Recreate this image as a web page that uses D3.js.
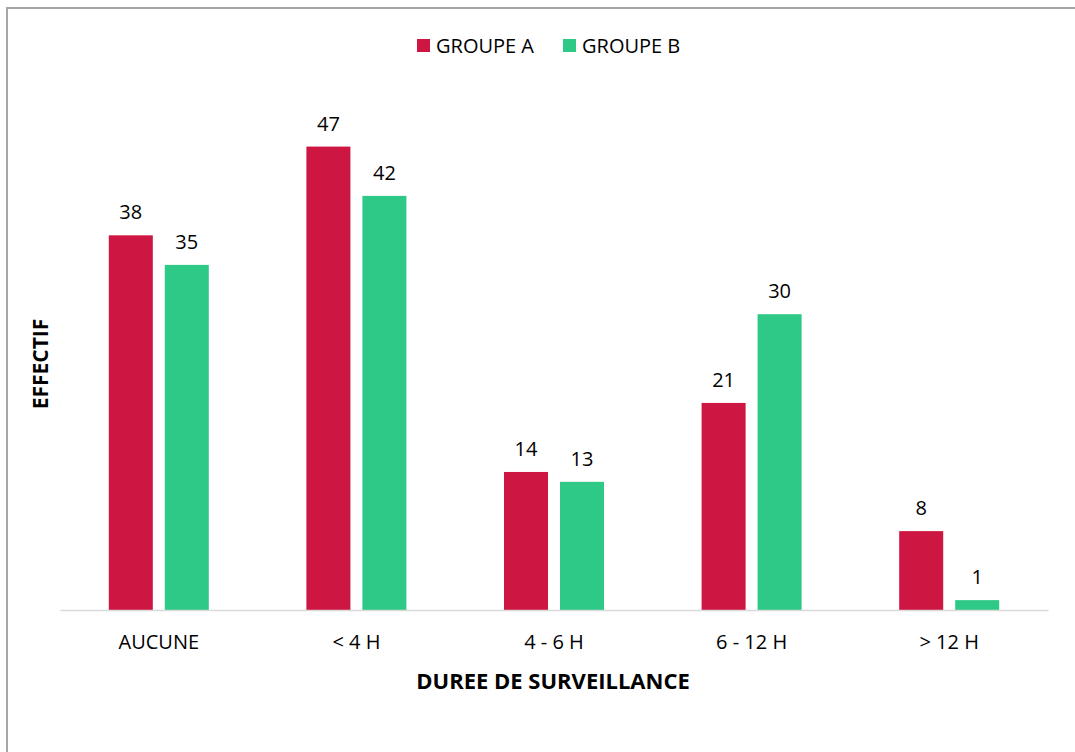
<!DOCTYPE html>
<html>
<head>
<meta charset="utf-8">
<script src="https://cdn.jsdelivr.net/npm/d3@7"></script>
<style>
  body { margin: 0; background: #fff; }
  svg { display: block; font-family: "Open Sans", sans-serif; }
</style>
</head>
<body>
<svg id="chart" width="1075" height="752"></svg>
<script>
// données
var categories = ['AUCUNE', '< 4 H', '4 - 6 H', '6 - 12 H', '> 12 H']
var series = ['GROUPE A', 'GROUPE B']
var groupeA = [38, 47, 14, 21, 8]
var groupeB = [35, 42, 13, 30, 1]
var colors = ['#cd1641', '#2ec986']

var svg = d3.select('#chart')
var W = 1075, H = 752

// cadre
svg.append('rect')
  .attr('x', 7).attr('y', 8)
  .attr('width', W + 10).attr('height', H + 10)
  .attr('fill', '#fff')
  .attr('stroke', '#a6a6a6').attr('stroke-width', 2)

var margin = { left: 60, right: 27, top: 117, bottom: 142 }
var plotW = W - margin.left - margin.right
var baseY = H - margin.bottom

var x0 = d3.scaleBand().domain(categories)
  .range([margin.left, margin.left + plotW])
var y = d3.scaleLinear().domain([0, 50]).range([baseY, margin.top])

// barres: largeur 44, écart 12
var barW = 44, gap = 12
var x1 = d3.scaleBand().domain(series)
  .range([x0.bandwidth() / 2 - barW - gap / 2, x0.bandwidth() / 2 + barW + gap / 2])
  .paddingInner(gap / (barW + gap)).paddingOuter(0)

var rows = categories.map(function(c, i) {
  return { cat: c, values: [groupeA[i], groupeB[i]] }
})

var g = svg.selectAll('g.cat').data(rows).enter().append('g')
  .attr('class', 'cat')
  .attr('transform', function(d) { return 'translate(' + x0(d.cat) + ',0)' })

g.selectAll('rect').data(function(d) {
  return d.values.map(function(v, j) { return { s: series[j], v: v, j: j } })
}).enter().append('rect')
  .attr('x', function(d) { return x1(d.s) })
  .attr('y', function(d) { return y(d.v) })
  .attr('width', x1.bandwidth())
  .attr('height', function(d) { return baseY - y(d.v) })
  .attr('fill', function(d) { return colors[d.j] })

g.selectAll('text.val').data(function(d) {
  return d.values.map(function(v, j) { return { s: series[j], v: v } })
}).enter().append('text')
  .attr('class', 'val')
  .attr('x', function(d) { return x1(d.s) + x1.bandwidth() / 2 })
  .attr('y', function(d) { return y(d.v) - 16 })
  .attr('text-anchor', 'middle')
  .attr('font-size', 20)
  .attr('fill', '#000')
  .text(function(d) { return d.v })

// axe x
var xAxis = d3.axisBottom(x0).tickSize(0).tickPadding(25)
var ax = svg.append('g').attr('transform', 'translate(0,' + baseY + ')').call(xAxis)
ax.select('.domain').attr('stroke', '#d9d9d9').attr('stroke-width', 1.5)
ax.selectAll('text').attr('font-size', 20).attr('font-family', '"Open Sans", sans-serif').attr('fill', '#000')

// titres
svg.append('text')
  .attr('x', margin.left + plotW / 2 - 1).attr('y', 689)
  .attr('text-anchor', 'middle')
  .attr('font-size', 22).attr('font-weight', 'bold')
  .text('DUREE DE SURVEILLANCE')

svg.append('text')
  .attr('transform', 'translate(48,364) rotate(-90)')
  .attr('text-anchor', 'middle')
  .attr('font-size', 21).attr('font-weight', 'bold')
  .text('EFFECTIF')

// légende
var legX = [417, 563]
var leg = svg.selectAll('g.leg').data(series).enter().append('g')
  .attr('class', 'leg')
  .attr('transform', function(d, i) { return 'translate(' + legX[i] + ',39)' })
leg.append('rect').attr('width', 13).attr('height', 13)
  .attr('fill', function(d, i) { return colors[i] })
leg.append('text').attr('x', 19).attr('y', 14)
  .attr('font-size', 20).attr('fill', '#000')
  .text(function(d) { return d })
</script>
</body>
</html>
